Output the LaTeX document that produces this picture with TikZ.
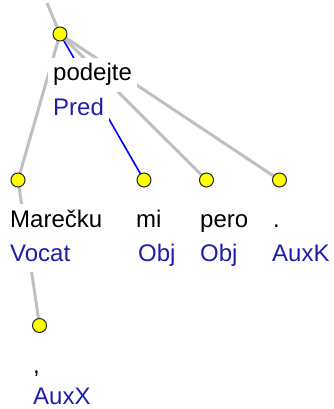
\documentclass[tikz,border=0pt]{standalone}
\usepackage{fontspec}
\setmainfont{Liberation Sans}
\definecolor{edgegray}{RGB}{192,192,192}
\definecolor{labblue}{RGB}{30,30,170}
\definecolor{dotyellow}{RGB}{255,255,0}
\pgfdeclarelayer{edges}
\pgfdeclarelayer{texts}
\pgfsetlayers{edges,texts,main}
\begin{document}
\begin{tikzpicture}[x=1pt,y=-1pt,
  dot/.style={circle,draw=black!85,fill=dotyellow,line width=1pt,minimum size=14pt,inner sep=0pt},
  word/.style={anchor=base west,fill=white,inner xsep=5pt,inner ysep=6pt,text height=17pt,text depth=5pt,text=black,font=\fontsize{24}{28}\selectfont},
  lab/.style={word,text=labblue},
  gedge/.style={draw=edgegray,line width=3pt},
  bedge/.style={draw=blue,line width=1.6pt}]
\useasboundingbox (0,0) rectangle (333,409);
% tree nodes
\node[dot] (root) at (60,34) {};
\node[dot] (mar) at (18,180) {};
\node[dot] (mi) at (144,180) {};
\node[dot] (pero) at (206.5,180) {};
\node[dot] (auxk) at (279.5,180) {};
\node[dot] (comma) at (39.5,325.5) {};
\coordinate (top) at (47,3);
% edges
\begin{pgfonlayer}{edges}
\draw[gedge] (top) -- (root.center);
\draw[gedge] (root.center) -- (mar.center);
\draw[bedge] (root.center) -- (mi.center);
\draw[gedge] (root.center) -- (pero.center);
\draw[gedge] (root.center) -- (auxk.center);
\draw[gedge] (mar.center) -- (comma.center);
\end{pgfonlayer}
% texts
\begin{pgfonlayer}{texts}
\node[word] (w1) at (48,81) {podejte};
\node[lab] (l1) at (48,115) {Pred};
\node[word] (w2) at (5,227) {Marečku};
\node[lab] (l2) at (5,261) {Vocat};
\node[word] (w3) at (131,227) {mi};
\node[lab] (l3) at (133,261) {Obj};
\node[word] (w4) at (195,227) {pero};
\node[lab] (l4) at (195,261) {Obj};
\node[word] (w5) at (268,227) {.};
\node[lab] (l5) at (267,261) {AuxK};
\node[word] (w6) at (28,373) {,};
\node[lab,text depth=0pt,inner ysep=1pt] (l6) at (28,404) {AuxX};
\end{pgfonlayer}
\end{tikzpicture}
\end{document}
